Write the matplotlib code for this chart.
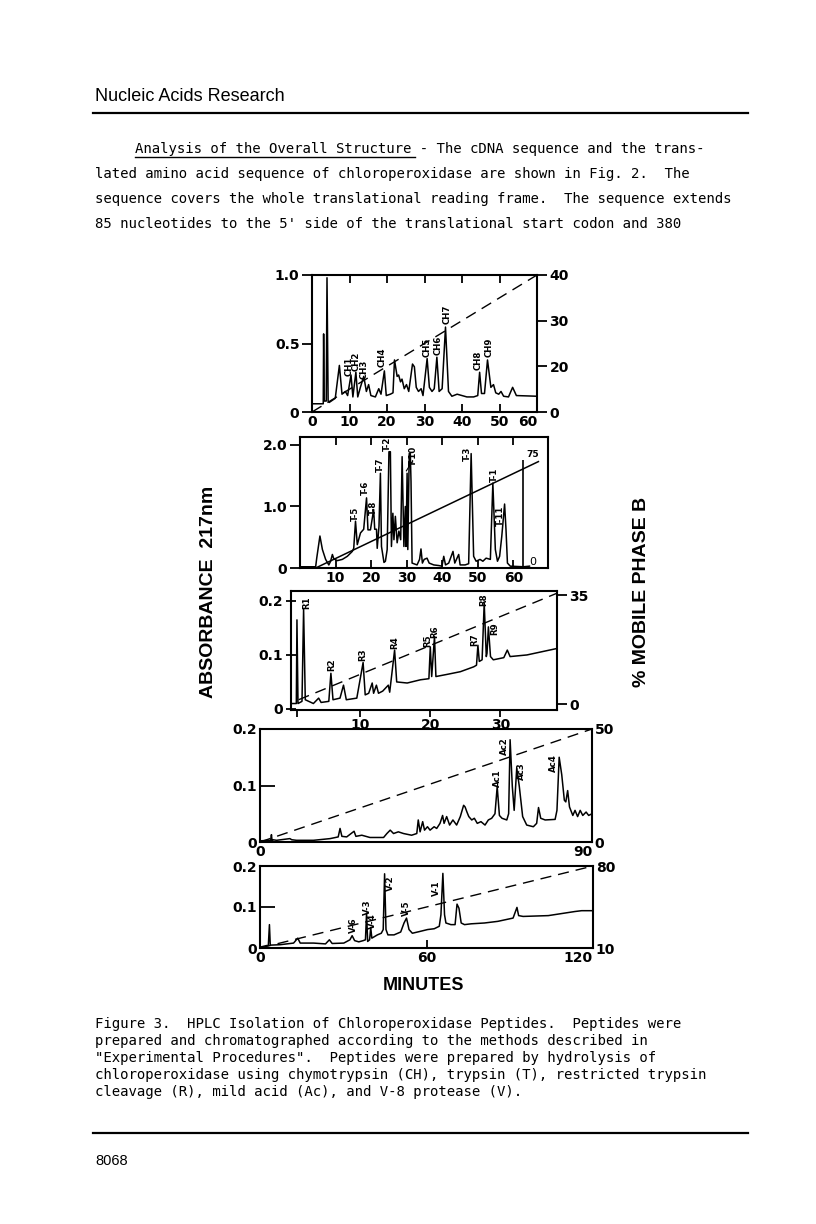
# coding: utf-8
import matplotlib
matplotlib.use('Agg')
import matplotlib.pyplot as plt

W, H = 816, 1224

# ---- chymotrypsin (CH) ----
ch_t = [0, 3.0, 3.1, 3.25, 3.8, 4.0, 4.3, 4.6, 6.2, 7.3, 8.0, 8.9, 9.5, 10.4, 10.9,
        11.7, 12.2, 12.9, 13.8, 14.5, 15.1, 15.7, 16.9, 17.8, 18.4, 19.3, 19.8, 20.9,
        21.6, 22.0, 22.7, 23.1, 23.6, 24.0, 24.6, 25.2, 25.8, 26.8, 27.3, 27.8, 28.4,
        29.1, 29.6, 30.7, 31.3, 32.0, 32.6, 33.3, 33.9, 34.7, 35.6, 36.4, 37.3, 38.7,
        40.0, 41.3, 43.1, 44.2, 44.7, 45.2, 46.0, 46.8, 47.7, 48.4, 49.0, 49.8, 50.4,
        51.1, 52.4, 53.5, 54.5, 60]
ch_a = [0.06, 0.06, 0.57, 0.08, 0.08, 0.98, 0.08, 0.07, 0.10, 0.34, 0.13, 0.15, 0.12,
        0.27, 0.11, 0.29, 0.11, 0.18, 0.26, 0.15, 0.20, 0.12, 0.11, 0.17, 0.13, 0.30,
        0.12, 0.13, 0.14, 0.38, 0.26, 0.27, 0.22, 0.24, 0.17, 0.20, 0.15, 0.35, 0.33,
        0.18, 0.15, 0.17, 0.12, 0.39, 0.18, 0.15, 0.17, 0.40, 0.15, 0.17, 0.62, 0.15,
        0.115, 0.13, 0.12, 0.11, 0.11, 0.12, 0.29, 0.135, 0.135, 0.38, 0.18, 0.20, 0.14,
        0.13, 0.15, 0.115, 0.11, 0.18, 0.12, 0.115]
ch_grad_t = [0, 60]
ch_grad_b = [10, 40]
ch_lab = ['CH1', 'CH2', 'CH3', 'CH4', 'CH5', 'CH6', 'CH7', 'CH8', 'CH9']
ch_lab_t = [9.8, 11.7, 13.9, 18.7, 30.7, 33.6, 36.0, 44.4, 47.3]
ch_lab_a = [0.33, 0.37, 0.31, 0.40, 0.47, 0.49, 0.71, 0.38, 0.47]

# ---- trypsin (T) ----
tr_t = [0, 4.4, 4.7, 5.6, 6.3, 7.2, 8.1, 8.6, 9.1, 9.5, 10.5, 11.9, 13.3, 14.7, 15.1,
        15.6, 16.1, 17.0, 17.9, 18.7, 19.1, 19.8, 20.7, 21.0, 21.5, 21.7, 22.2, 22.6,
        22.9, 23.6, 24.0, 24.5, 25.0, 25.4, 25.7, 26.1, 26.4, 26.8, 27.3, 27.8, 28.3,
        28.7, 29.2, 29.6, 29.8, 30.1, 30.3, 30.7, 31.0, 31.2, 31.5, 32.9, 33.6, 34.0,
        34.4, 34.9, 35.7, 36.3, 37.6, 39.0, 39.9, 40.4, 40.9, 41.8, 43.0, 43.5, 44.6,
        45.0, 46.4, 47.4, 48.1, 48.8, 49.5, 50.6, 51.4, 52.3, 53.5, 54.2, 54.9, 55.5,
        56.1, 56.7, 57.5, 57.9, 58.3, 59.1, 62.8, 64.5]
tr_a = [0.02, 0.02, 0.16, 0.52, 0.30, 0.14, 0.05, 0.11, 0.22, 0.15, 0.12, 0.14, 0.19,
        0.27, 0.32, 0.76, 0.38, 0.57, 0.63, 1.14, 0.62, 0.62, 0.95, 0.63, 0.63, 0.32,
        0.68, 1.54, 0.35, 0.09, 0.11, 0.30, 1.89, 1.89, 0.35, 0.89, 0.46, 0.84, 0.41,
        0.60, 0.46, 1.81, 0.35, 1.00, 0.35, 1.54, 0.30, 1.86, 1.86, 1.41, 0.08, 0.05,
        0.14, 0.31, 0.08, 0.14, 0.16, 0.08, 0.05, 0.04, 0.03, 0.19, 0.05, 0.08, 0.27,
        0.08, 0.22, 0.05, 0.05, 0.07, 1.86, 0.19, 0.11, 0.14, 0.11, 0.16, 0.14, 1.38,
        0.30, 0.11, 0.19, 0.51, 1.04, 0.62, 0.08, 0.03, 0.02, 0.03]
tr_grad_t = [4.4, 67.0]
tr_grad_b = [0, 75]
tr_mark_t = 62.8
tr_mark_a = 1.75
tr_lab = ['T-5', 'T-6', 'T-8', 'T-7', 'T-2', 'T-10', 'T-3', 'T-1', 'T-11']
tr_lab_t = [15.5, 18.4, 20.7, 22.6, 24.6, 32.0, 46.9, 54.7, 56.4]
tr_lab_a = [0.88, 1.30, 0.98, 1.68, 2.02, 1.82, 1.86, 1.52, 0.85]

# ---- restricted trypsin (R) ----
rs_t = [0.2, 0.86, 0.95, 1.1, 1.67, 1.9, 2.14, 3.3, 4.05, 4.4, 5.5, 5.8, 6.1, 7.1, 7.6,
        8.0, 9.5, 10.4, 10.7, 11.2, 11.7, 11.9, 12.3, 12.6, 13.2, 14.0, 14.2, 14.9, 15.2,
        16.7, 18.6, 19.8, 20.0, 20.2, 20.6, 20.8, 22.4, 24.3, 26.2, 26.6, 26.8, 27.0,
        27.4, 27.7, 28.0, 28.1, 28.3, 28.6, 29.0, 30.5, 31.0, 31.4, 33.8, 38.1]
rs_a = [0.01, 0.01, 0.165, 0.01, 0.014, 0.185, 0.017, 0.01, 0.02, 0.012, 0.014, 0.066,
        0.017, 0.02, 0.044, 0.017, 0.02, 0.086, 0.026, 0.029, 0.048, 0.029, 0.044, 0.029,
        0.033, 0.044, 0.031, 0.109, 0.05, 0.048, 0.054, 0.056, 0.115, 0.06, 0.134, 0.06,
        0.064, 0.069, 0.078, 0.081, 0.118, 0.088, 0.091, 0.196, 0.097, 0.103, 0.152,
        0.097, 0.091, 0.095, 0.109, 0.097, 0.10, 0.112]
rs_grad_t = [1.2, 38.0]
rs_grad_b = [1.4, 35.5]
rs_lab = ['R1', 'R2', 'R3', 'R4', 'R5', 'R6', 'R7', 'R8', 'R9']
rs_lab_t = [2.4, 5.9, 10.3, 14.9, 19.6, 20.6, 26.4, 27.6, 29.2]
rs_lab_a = [0.196, 0.082, 0.101, 0.122, 0.126, 0.144, 0.129, 0.203, 0.148]

# ---- mild acid (Ac) ----
ac_t = [0, 2.3, 2.9, 3.1, 3.3, 3.5, 4.5, 8.1, 8.6, 9.9, 14.5, 19.0, 21.2, 21.7, 22.2,
        23.5, 25.5, 26.0, 27.6, 29.8, 33.5, 34.4, 35.3, 36.2, 37.5, 38.9, 41.1, 42.5,
        42.9, 43.4, 44.1, 44.6, 45.4, 46.1, 47.2, 47.9, 48.8, 49.5, 49.9, 50.6, 51.4,
        52.3, 53.3, 54.3, 55.2, 55.6, 56.1, 56.6, 57.4, 58.1, 58.9, 59.9, 61.0, 61.9,
        62.8, 63.7, 64.3, 64.9, 65.6, 66.9, 67.4, 67.8, 68.4, 68.9, 69.6, 70.3, 71.2,
        72.3, 74.1, 75.0, 75.5, 76.1, 77.3, 80.0, 80.5, 81.1, 81.8, 82.5, 82.9, 83.4,
        83.9, 84.8, 85.4, 86.1, 86.8, 87.5, 88.4, 89.1, 90]
ac_a = [0.002, 0.003, 0.003, 0.013, 0.0, 0.004, 0.003, 0.006, 0.004, 0.003, 0.003,
        0.006, 0.009, 0.024, 0.010, 0.009, 0.019, 0.010, 0.012, 0.008, 0.008, 0.015,
        0.021, 0.015, 0.018, 0.015, 0.012, 0.015, 0.039, 0.018, 0.036, 0.021, 0.027,
        0.021, 0.027, 0.024, 0.033, 0.047, 0.033, 0.045, 0.030, 0.039, 0.030, 0.045,
        0.065, 0.062, 0.053, 0.045, 0.039, 0.042, 0.033, 0.036, 0.030, 0.039, 0.042,
        0.050, 0.098, 0.047, 0.042, 0.039, 0.050, 0.181, 0.098, 0.056, 0.131, 0.098,
        0.045, 0.030, 0.027, 0.033, 0.061, 0.042, 0.039, 0.040, 0.056, 0.150, 0.119,
        0.074, 0.071, 0.091, 0.062, 0.047, 0.056, 0.045, 0.056, 0.047, 0.053, 0.047,
        0.050]
ac_grad_t = [0, 90]
ac_grad_b = [0, 50]
ac_lab = ['Ac1', 'Ac2', 'Ac3', 'Ac4']
ac_lab_t = [64.5, 66.3, 71.0, 79.6]
ac_lab_a = [0.113, 0.170, 0.125, 0.140]

# ---- V-8 protease (V) ----
v8_t = [0, 2.4, 3.0, 3.4, 3.7, 7.2, 12.1, 13.6, 14.5, 19.3, 23.6, 25.0, 26.0, 30.2, 32.4,
        33.2, 34.1, 35.6, 37.2, 38.0, 38.4, 38.8, 39.5, 39.9, 40.3, 41.3, 42.3, 43.7,
        44.4, 44.9, 45.4, 46.1, 48.3, 50.7, 51.9, 52.8, 53.7, 54.9, 57.4, 60.4, 62.8,
        64.6, 65.2, 65.9, 66.5, 67.0, 68.8, 70.3, 71.0, 71.7, 72.5, 73.7, 76.1, 80.9,
        85.7, 91.2, 92.6, 93.2, 94.8, 103.9, 113.5, 115.9, 120]
v8_a = [0.002, 0.006, 0.006, 0.057, 0.007, 0.008, 0.012, 0.024, 0.012, 0.012, 0.010,
        0.020, 0.011, 0.012, 0.020, 0.030, 0.018, 0.015, 0.018, 0.020, 0.085, 0.016,
        0.020, 0.050, 0.024, 0.028, 0.032, 0.036, 0.045, 0.181, 0.045, 0.032, 0.032,
        0.039, 0.061, 0.073, 0.045, 0.036, 0.040, 0.045, 0.047, 0.053, 0.081, 0.182,
        0.081, 0.061, 0.057, 0.057, 0.107, 0.097, 0.061, 0.057, 0.059, 0.061, 0.065,
        0.073, 0.099, 0.079, 0.077, 0.079, 0.089, 0.091, 0.091]
v8_grad_t = [0, 120]
v8_grad_b = [10, 80]
v8_lab = ['V-6', 'V-3', 'V-4', 'V-2', 'V-5', 'V-1']
v8_lab_t = [33.8, 38.6, 40.6, 46.9, 52.8, 63.6]
v8_lab_a = [0.055, 0.100, 0.065, 0.158, 0.097, 0.147]

# ---- page text ----
header = 'Nucleic Acids Research'
body = ['Analysis of the Overall Structure - The cDNA sequence and the trans-',
        'lated amino acid sequence of chloroperoxidase are shown in Fig. 2.  The',
        'sequence covers the whole translational reading frame.  The sequence extends',
        "85 nucleotides to the 5' side of the translational start codon and 380"]
caption = ['Figure 3.  HPLC Isolation of Chloroperoxidase Peptides.  Peptides were',
           'prepared and chromatographed according to the methods described in',
           '"Experimental Procedures".  Peptides were prepared by hydrolysis of',
           'chloroperoxidase using chymotrypsin (CH), trypsin (T), restricted trypsin',
           'cleavage (R), mild acid (Ac), and V-8 protease (V).']
page_no = '8068'

#------------------
plt.rcParams['font.family'] = ['DejaVu Sans']
fig = plt.figure(figsize=(W / 100, H / 100), dpi=100)
fig.patch.set_facecolor('white')


def axbox(l, t, r, b):
    return fig.add_axes([l / W, 1 - b / H, (r - l) / W, (b - t) / H])


def fx(x):
    return x / W


def fy(y):
    return 1 - y / H


TICKSIZE = 10
LABFONT = dict(fontsize=6.2, fontweight='bold', rotation=90, ha='center', va='center')
DASH = (0, (8, 5))


def style(ax, xdir='in', ydir='out', xlen=6, xpad=2):
    for s in ax.spines.values():
        s.set_linewidth(1.5)
    ax.tick_params(axis='x', direction=xdir, length=xlen, width=1.3, pad=xpad)
    ax.tick_params(axis='y', direction=ydir, length=7, width=1.3, pad=2)
    for lab in ax.get_xticklabels() + ax.get_yticklabels():
        lab.set_fontsize(TICKSIZE)
        lab.set_fontweight('bold')


def last_right(ax):
    # the last time label sits left of the corner, as printed
    labs = ax.get_xticklabels()
    labs[-1].set_horizontalalignment('right')


def right_axis(ax, lim, ticks, labels, direction='out'):
    ax2 = ax.twinx()
    ax2.set_ylim(*lim)
    ax2.set_yticks(ticks)
    ax2.set_yticklabels(labels)
    ax2.tick_params(axis='y', direction=direction, length=7, width=1.3, pad=2)
    for lab in ax2.get_yticklabels():
        lab.set_fontsize(TICKSIZE)
        lab.set_fontweight('bold')
    for s in ax2.spines.values():
        s.set_visible(False)
    return ax2


#------------------ CH
ax1 = axbox(312, 275, 537, 412)
ax1.plot(ch_t, ch_a, '-k', lw=1.1)
ax1.set_xlim(0, 60)
ax1.set_ylim(0, 1.0)
ax1.set_xticks([0, 10, 20, 30, 40, 50, 60])
ax1.set_yticks([0, 0.5, 1.0])
ax1.set_yticklabels(['0', '0.5', '1.0'])
ax1.tick_params(top=True)
style(ax1, 'in', 'out')
last_right(ax1)
ax1b = right_axis(ax1, (10, 40), [10, 20, 30, 40], ['0', '20', '30', '40'])
ax1b.plot(ch_grad_t, ch_grad_b, color='k', lw=1.0, ls=DASH)
for s, x, y in zip(ch_lab, ch_lab_t, ch_lab_a):
    ax1.text(x, y, s, **LABFONT)

#------------------ T
ax2 = axbox(300, 437, 548, 568)
ax2.plot(tr_t, tr_a, '-k', lw=1.1)
ax2.vlines(tr_mark_t, 0, tr_mark_a, color='k', lw=1.2)
ax2.set_xlim(0, 69.7)
ax2.set_ylim(0, 2.13)
ax2.set_xticks([10, 20, 30, 40, 50, 60])
ax2.set_yticks([0, 1.0, 2.0])
ax2.set_yticklabels(['0', '1.0', '2.0'])
ax2.tick_params(top=True)
style(ax2, 'in', 'out')
ax2b = right_axis(ax2, (0, 75 * 2.13 / 1.73), [], [])
ax2b.plot(tr_grad_t, tr_grad_b, color='k', lw=1.1)
ax2b.text(tr_grad_t[1] - 1.5, tr_grad_b[1] + 2, '75', fontsize=6.5, fontweight='bold',
          ha='center', va='bottom')
ax2b.text(tr_grad_t[1] - 1.5, tr_grad_b[0] + 1, '0', fontsize=8, ha='center', va='bottom')
ax2.plot([29.9, 31.4], [1.58, 1.72], '-k', lw=0.8)
for s, x, y in zip(tr_lab, tr_lab_t, tr_lab_a):
    ax2.text(x, y, s, **LABFONT)

#------------------ R
ax3 = axbox(291, 591, 557, 710)
ax3.plot(rs_t, rs_a, '-k', lw=1.1)
ax3.set_xlim(0.1, 38.1)
ax3.set_ylim(-0.002, 0.2185)
ax3.set_xticks([1, 10, 20, 30])
ax3.set_xticklabels(['', '10', '20', '30'])
ax3.set_yticks([0, 0.1, 0.2])
ax3.set_yticklabels(['0', '0.1', '0.2'])
style(ax3, 'out', 'inout', xlen=5, xpad=0.5)
rlo = (-0.002 - 0.009) / 0.202 * 35
rhi = (0.2185 - 0.009) / 0.202 * 35
ax3b = right_axis(ax3, (rlo, rhi), [0, 35], ['0', '35'])
ax3b.plot(rs_grad_t, rs_grad_b, color='k', lw=1.0, ls=DASH)
for s, x, y in zip(rs_lab, rs_lab_t, rs_lab_a):
    ax3.text(x, y, s, **LABFONT)

#------------------ Ac
ax4 = axbox(260, 729, 592, 842)
ax4.plot(ac_t, ac_a, '-k', lw=1.1)
ax4.set_xlim(0, 90)
ax4.set_ylim(0, 0.2)
ax4.set_xticks([0, 90])
ax4.set_yticks([0, 0.1, 0.2])
ax4.set_yticklabels(['0', '0.1', '0.2'])
style(ax4, 'in', 'in')
ax4.tick_params(axis='y', length=11)
last_right(ax4)
ax4b = right_axis(ax4, (0, 50), [0, 50], ['0', '50'])
ax4b.tick_params(axis='y', length=0)
ax4b.plot(ac_grad_t, ac_grad_b, color='k', lw=1.0, ls=DASH)
for s, x, y in zip(ac_lab, ac_lab_t, ac_lab_a):
    ax4.text(x, y, s, **LABFONT)

#------------------ V
ax5 = axbox(260, 866, 593, 948)
ax5.plot(v8_t, v8_a, '-k', lw=1.1)
ax5.set_xlim(0, 120)
ax5.set_ylim(0, 0.2)
ax5.set_xticks([0, 60, 120])
ax5.set_yticks([0, 0.1, 0.2])
ax5.set_yticklabels(['0', '0.1', '0.2'])
style(ax5, 'in', 'in')
ax5.tick_params(axis='y', length=11)
last_right(ax5)
ax5b = right_axis(ax5, (10, 80), [10, 80], ['10', '80'])
ax5b.tick_params(axis='y', length=0)
ax5b.plot(v8_grad_t, v8_grad_b, color='k', lw=1.0, ls=DASH)
for s, x, y in zip(v8_lab, v8_lab_t, v8_lab_a):
    ax5.text(x, y, s, **LABFONT)

#------------------ axis titles
fig.text(fx(209), fy(592), 'ABSORBANCE  217nm', rotation=90, ha='center', va='center',
         fontsize=14, fontweight='bold', family='Liberation Sans')
fig.text(fx(642), fy(592), '% MOBILE PHASE B', rotation=90, ha='center', va='center',
         fontsize=14, fontweight='bold', family='Liberation Sans')
fig.text(fx(423), fy(985), 'MINUTES', ha='center', va='center',
         fontsize=13, fontweight='bold', family='Liberation Sans')

#------------------ page text
MONO = dict(family='DejaVu Sans Mono', fontsize=10.1, color='black')
fig.text(fx(95), fy(101), header, family='Liberation Sans', fontsize=13, ha='left',
         va='baseline')
for y in (113, 1133):
    fig.add_artist(plt.Line2D([fx(93), fx(748)], [fy(y), fy(y)], color='k', lw=1.6))

for i, line in enumerate(body):
    x0 = 135 if i == 0 else 95
    fig.text(fx(x0), fy(153 + 25 * i), line, ha='left', va='baseline', **MONO)
fig.add_artist(plt.Line2D([fx(135), fx(415)], [fy(157), fy(157)], color='k', lw=1.0))

for i, line in enumerate(caption):
    fig.text(fx(95), fy(1028 + 17 * i), line, ha='left', va='baseline', **MONO)

fig.text(fx(95), fy(1165), page_no, family='Liberation Sans', fontsize=10.5, ha='left',
         va='baseline')

plt.savefig('out.png', dpi=100)
